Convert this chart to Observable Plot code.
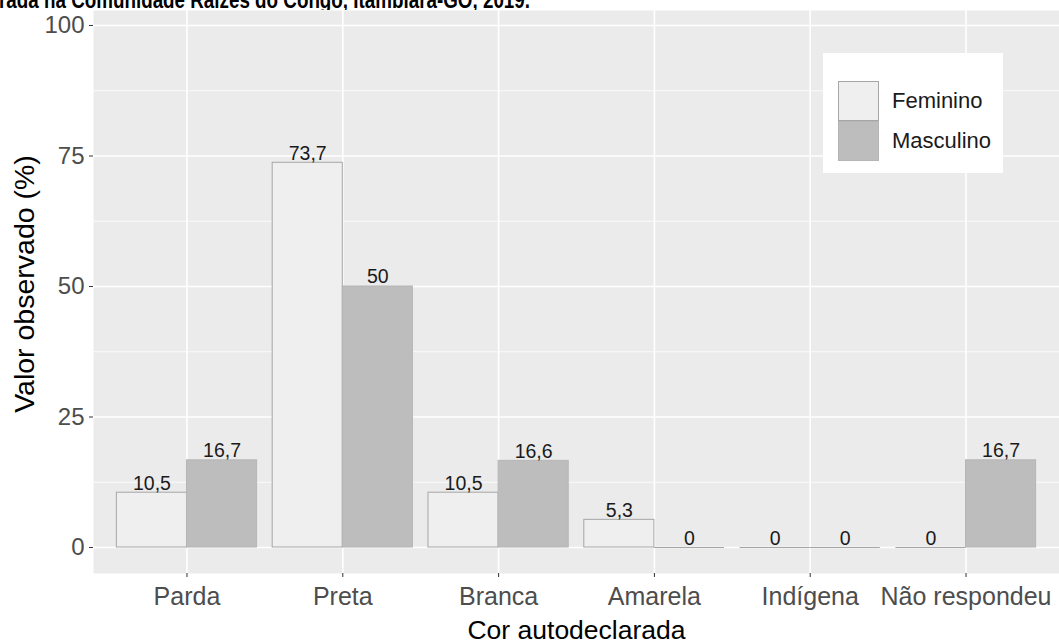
<!DOCTYPE html>
<html>
<head>
<meta charset="utf-8">
<script src="https://cdn.jsdelivr.net/npm/d3@7"></script>
<script src="https://cdn.jsdelivr.net/npm/@observablehq/plot@0.6"></script>
<style>
  html, body { margin: 0; padding: 0; background: #fff; }
  #wrap { position: relative; width: 1059px; height: 644px; overflow: hidden; font-family: "Liberation Sans", Arial, sans-serif; }
  #title { position: absolute; left: 0; top: 0; width: 1059px; height: 10px; overflow: hidden; background: #fff; z-index: 3; display: block; }
  #legend { position: absolute; left: 823px; top: 53px; width: 180px; height: 120px; background: #fff; z-index: 2; }
  .key { position: absolute; left: 15px; width: 41px; height: 40px; box-sizing: border-box; }
  .lab { position: absolute; left: 69px; font-size: 22px; color: #1a1a1a; line-height: 24px; }
</style>
</head>
<body>
<div id="wrap">
  <svg id="title" width="1059" height="10" xmlns="http://www.w3.org/2000/svg">
    <rect x="0" y="0" width="1059" height="10" fill="#fff"></rect>
    <text x="-1" y="7.5" font-family="Liberation Sans, Arial, sans-serif" font-weight="700" font-size="23" textLength="531" lengthAdjust="spacingAndGlyphs" fill="#000">rada na Comunidade Raízes do Congo, Itambiara-GO, 2019.</text>
  </svg>
  <div id="chart"></div>
  <div id="legend"></div>
</div>
<script>
const categories = ["Parda", "Preta", "Branca", "Amarela", "Indígena", "Não respondeu"];
const feminino = [10.5, 73.7, 10.5, 5.3, 0, 0];
const masculino = [16.7, 50, 16.6, 0, 0, 16.7];
const sexes = ["Feminino", "Masculino"];
const yTicks = [0, 25, 50, 75, 100];
const yMinorTicks = [12.5, 37.5, 62.5, 87.5];

const fills = {Feminino: "#efefef", Masculino: "#bdbdbd"};
const strokes = {Feminino: "#a6a6a6", Masculino: "#b5b5b5"};

const rows = categories.flatMap((c, i) => [
  {cat: c, i, sex: "Feminino", value: feminino[i]},
  {cat: c, i, sex: "Masculino", value: masculino[i]}
]);
const half = 0.45;
const left = d => d.sex === "Feminino" ? d.i - half : d.i;
const right = d => d.sex === "Feminino" ? d.i : d.i + half;
const mid = d => (left(d) + right(d)) / 2;
const fmt = v => String(v).replace(".", ",");

const barMarks = sexes.flatMap(s => [
  Plot.rectY(rows.filter(d => d.sex === s && d.value > 0), {
    x1: left, x2: right, y1: 0, y2: "value",
    fill: fills[s], stroke: strokes[s], strokeWidth: 1
  }),
  Plot.ruleY(rows.filter(d => d.sex === s && d.value === 0), {
    x1: left, x2: right, y: "value", stroke: "#a6a6a6", strokeWidth: 1
  })
]);

const plot = Plot.plot({
  width: 1059,
  height: 644,
  marginLeft: 93,
  marginRight: 0,
  marginTop: 10,
  marginBottom: 71,
  style: {fontFamily: "Liberation Sans, Arial, sans-serif", background: "#fff", overflow: "visible"},
  x: {type: "linear", domain: [-0.6, categories.length - 0.4]},
  y: {domain: [-4.98, 102.87]},
  marks: [
    Plot.frame({fill: "#ebebeb", stroke: null}),
    Plot.ruleY(yMinorTicks, {stroke: "#fff", strokeWidth: 0.8}),
    Plot.ruleY(yTicks, {stroke: "#fff", strokeWidth: 1.6}),
    Plot.ruleX(d3.range(categories.length), {stroke: "#fff", strokeWidth: 1.6}),
    ...barMarks,
    Plot.text(rows, {x: mid, y: "value", text: d => fmt(d.value), lineAnchor: "bottom", dy: -3, fontSize: 19.5, fill: "#1a1a1a"}),
    Plot.axisX({ticks: d3.range(categories.length), tickFormat: i => categories[i], tickSize: 4, tickPadding: 10, fontSize: 25, color: "#4d4d4d", stroke: "#333", label: null}),
    Plot.axisY({ticks: yTicks, tickFormat: d => String(d), tickSize: 4, tickPadding: 5, fontSize: 24, color: "#4d4d4d", stroke: "#333", label: null}),
    Plot.text(["Cor autodeclarada"], {frameAnchor: "bottom", dy: 57, lineAnchor: "middle", textAnchor: "middle", fontSize: 26.5, fill: "#000"}),
    Plot.text(["Valor observado (%)"], {frameAnchor: "left", dx: -69, dy: -8, rotate: -90, lineAnchor: "middle", textAnchor: "middle", fontSize: 28.5, fill: "#000"})
  ]
});
document.getElementById("chart").appendChild(plot);

const legend = document.getElementById("legend");
sexes.forEach((s, k) => {
  const key = document.createElement("div");
  key.className = "key";
  key.style.top = (28 + k * 40) + "px";
  key.style.background = fills[s];
  key.style.border = "1px solid " + strokes[s];
  legend.appendChild(key);
  const lab = document.createElement("div");
  lab.className = "lab";
  lab.style.top = (36 + k * 40) + "px";
  lab.textContent = s;
  legend.appendChild(lab);
});
</script>
</body>
</html>
